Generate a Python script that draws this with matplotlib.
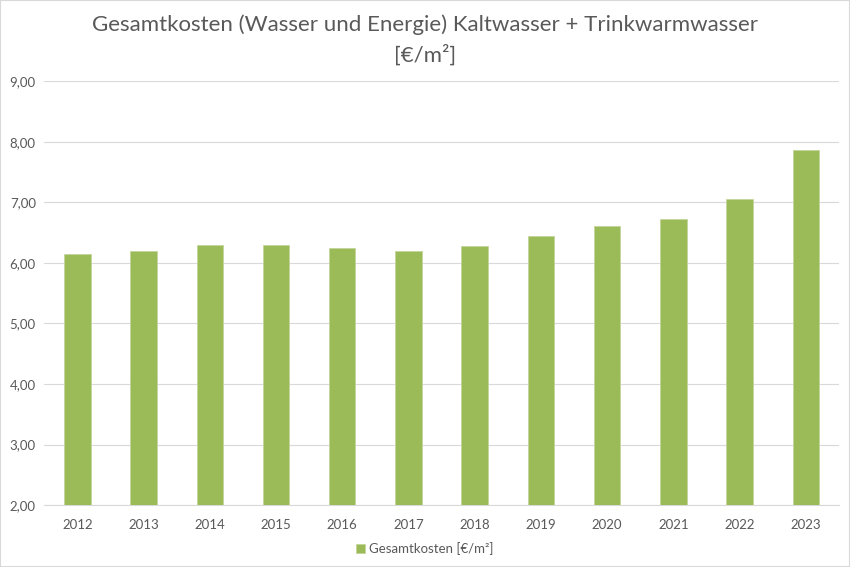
import matplotlib.pyplot as plt
import numpy as np

years = ["2012", "2013", "2014", "2015", "2016", "2017",
         "2018", "2019", "2020", "2021", "2022", "2023"]
kosten = [6.15, 6.19, 6.29, 6.29, 6.24, 6.20,
          6.27, 6.45, 6.61, 6.72, 7.05, 7.86]

plt.rcParams['font.family'] = ['Lato', 'DejaVu Sans']

fig = plt.figure(figsize=(8.5, 5.67), dpi=100)
ax = fig.add_axes([0.052, 0.109, 0.935, 0.748])

x = np.arange(len(years))
ax.bar(x, kosten, width=0.4, bottom=0, color='#9bbb59', edgecolor='#c3d69b',
       linewidth=0.6, zorder=3, label='Gesamtkosten [€/m²]')

ax.set_ylim(2, 9)
ax.set_xlim(-0.5, len(years) - 0.5)
ax.set_yticks(np.arange(2, 9.01, 1))
ax.set_yticklabels([f"{v:.2f}".replace('.', ',') for v in np.arange(2, 9.01, 1)])
ax.set_xticks(x)
ax.set_xticklabels(years)
ax.tick_params(axis='both', length=0, colors='#595959', labelsize=9.5)
ax.tick_params(axis='x', pad=10)
ax.tick_params(axis='y', pad=6)
ax.grid(axis='y', color='#d9d9d9', linewidth=0.8, zorder=0)
for s in ['top', 'right', 'left']:
    ax.spines[s].set_visible(False)
ax.spines['bottom'].set_color('#d9d9d9')

fig.suptitle("Gesamtkosten (Wasser und Energie) Kaltwasser + Trinkwarmwasser\n[€/m²]",
             y=0.975, fontsize=16, color='#595959', linespacing=1.55)

fig.legend(loc='lower center', bbox_to_anchor=(0.5, 0.0), frameon=False,
           fontsize=9.5, labelcolor='#595959', handlelength=0.7, handleheight=0.7,
           handletextpad=0.3)

fig.patches.append(plt.Rectangle((0, 0), 1, 1, transform=fig.transFigure,
                                 fill=False, edgecolor='#d9d9d9', linewidth=1.5))

fig.savefig('out.png', dpi=100)
